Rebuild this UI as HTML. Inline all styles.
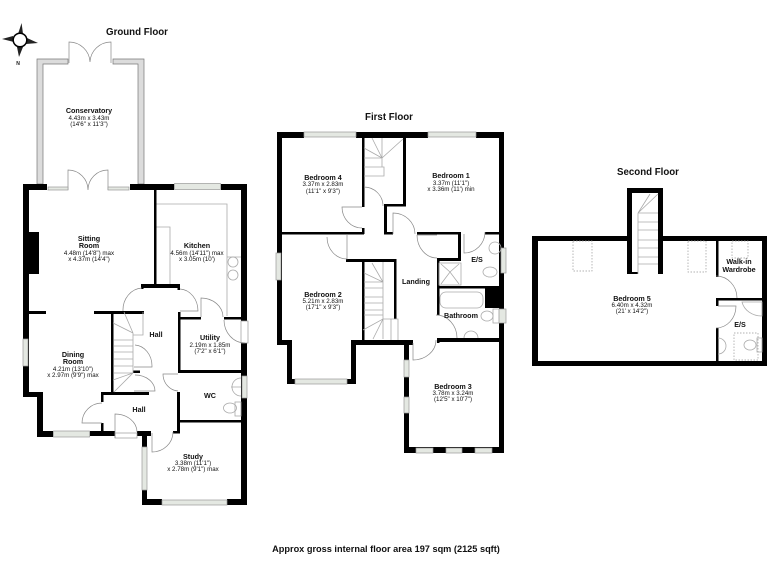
<!DOCTYPE html>
<html><head><meta charset="utf-8"><style>
html,body{margin:0;padding:0;background:#fff;width:768px;height:576px;overflow:hidden}
svg{display:block}
text{font-family:"Liberation Sans",sans-serif;text-anchor:middle;fill:#111}
.t{font-size:9.7px;font-weight:bold}
.r{font-size:7.2px;font-weight:bold}
.d{font-size:6.2px}
.w rect{fill:#000}
.win rect{fill:#e4e8e2;stroke:#999;stroke-width:.7}
.a{fill:none;stroke:#888;stroke-width:.7}
.s{fill:none;stroke:#aaa;stroke-width:.8}
.dash{fill:none;stroke:#999;stroke-width:.7;stroke-dasharray:1.5 1.5}
</style></head><body>
<svg width="768" height="576" viewBox="0 0 768 576" xmlns="http://www.w3.org/2000/svg">
<rect width="768" height="576" fill="#fff"/>
<!-- compass -->
<g fill="#222"><polygon points="21.6,23 18,34 23,34"/><polygon points="19,57 17,47 23,47"/><polygon points="2,39 13,36 14,42"/><polygon points="38,43 27,38 26,44"/></g>
<circle cx="20" cy="40" r="6.8" fill="#fff" stroke="#000" stroke-width="1.5"/>
<text x="18" y="65" style="font-size:5px;font-weight:bold">N</text>
<!-- conservatory -->
<g fill="#dcdcdc" stroke="#777" stroke-width=".7">
<polygon points="37,59 68,59 68,64 43,64 43,184 37,184"/>
<polygon points="144,59 113,59 113,64 138,64 138,184 144,184"/>
</g>
<path class="a" d="M69,63V42A21,21 0 0 1 90,62M111,63V42A21,21 0 0 0 90,62"/>
<path class="a" d="M68,190V170A20,20 0 0 1 88,190M108,190V170A20,20 0 0 0 88,190"/>
<!-- kitchen worktop -->
<path class="s" d="M156,204H227V316M156,227H170V284M227,257H241"/>
<circle cx="233" cy="262" r="5" class="s"/><circle cx="233" cy="275" r="5" class="s"/>
<!-- ground walls -->
<g class="w">
<rect x="23" y="184" width="24" height="6"/><rect x="130" y="184" width="44" height="6"/><rect x="221" y="184" width="26" height="6"/>
<rect x="23" y="184" width="6" height="213"/><rect x="29" y="232" width="10" height="42"/>
<rect x="29" y="311" width="17" height="3"/><rect x="94" y="311" width="50" height="3"/>
<rect x="23" y="392" width="20" height="5"/><rect x="37" y="392" width="6" height="45"/>
<rect x="37" y="431" width="16" height="6"/><rect x="90" y="431" width="25" height="5"/><rect x="137" y="431" width="14" height="5"/>
<rect x="142" y="431" width="5" height="74"/><rect x="142" y="499" width="20" height="6"/><rect x="227" y="499" width="20" height="6"/>
<rect x="241" y="184" width="6" height="321"/>
<rect x="154" y="184" width="2.5" height="100"/><rect x="141" y="284" width="39" height="4"/><rect x="141" y="284" width="2.5" height="5"/><rect x="177.5" y="284" width="2.5" height="6"/>
<rect x="178" y="312" width="2.5" height="60"/><rect x="178" y="317" width="23" height="2.5"/><rect x="224" y="317" width="17" height="2.5"/>
<rect x="178" y="370" width="63" height="3"/><rect x="177" y="392" width="3" height="41"/><rect x="177" y="420" width="64" height="2.5"/><rect x="173" y="431" width="7" height="2.5"/>
<rect x="111" y="311" width="2.5" height="83"/><rect x="101" y="392" width="48" height="3"/><rect x="101" y="392" width="2.5" height="10"/><rect x="101" y="423" width="2.5" height="9"/>
<rect x="133" y="370.5" width="7" height="2.5"/>
</g>
<g class="win">
<rect x="48" y="187" width="20" height="3"/><rect x="108" y="187" width="21" height="3"/><rect x="174.5" y="183.5" width="46" height="6"/>
<rect x="23" y="339" width="5" height="27"/><rect x="53.5" y="431" width="36" height="6"/><rect x="115" y="433" width="22" height="5" style="fill:#fff"/>
<rect x="142" y="447" width="5" height="43"/><rect x="162" y="500" width="65" height="5"/><rect x="241" y="321" width="7" height="22" style="fill:#fff"/><rect x="242" y="376" width="5" height="22"/>
</g>
<!-- ground doors -->
<path class="a" d="M123,311A20,22 0 0 1 142,288M180,289A19,22 0 0 1 198,311H180M201,317V298A22,19 0 0 1 223,317M224,320A21,23 0 0 0 245,343"/>
<path class="a" d="M135,345A18,21 0 0 1 152,366V367H134M135,375A20,16 0 0 1 155,391H134M178,374H163A16,17 0 0 0 178,391M102,403A20,20 0 0 0 82,423H102M115,438V414A22,18 0 0 1 137,432M152,433V452A21,20 0 0 0 173,432"/>
<!-- ground stairs -->
<path class="s" d="M114,340H133M114,346H133M114,352H133M114,359H133M114,366H133M114,373H133M133,333V373M113,380L133,373M114,392L133,373M113,323L133,333M124,312L133,333M133,335H143V312"/>
<!-- ground fixtures -->
<path class="s" d="M241,378A9,9 0 0 0 241,396M231,387H241"/><ellipse cx="230" cy="408" rx="6.5" ry="5" class="s"/><rect x="235" y="402" width="6" height="14" class="s"/>
<!-- first floor walls -->
<g class="w">
<rect x="277" y="132" width="27" height="6"/><rect x="356" y="132" width="72" height="6"/><rect x="476" y="132" width="28" height="6"/>
<rect x="277" y="132" width="5" height="212"/><rect x="499" y="132" width="5" height="321"/>
<rect x="362" y="138" width="2.5" height="69"/><rect x="362" y="228" width="2.5" height="6"/><rect x="362" y="259" width="2.5" height="82"/><rect x="403" y="138" width="3" height="68"/><rect x="384" y="204" width="22" height="2.5"/><rect x="384" y="204" width="3" height="30"/><rect x="384" y="232" width="9" height="2.5"/>
<rect x="282" y="232" width="82" height="2.5"/><rect x="346" y="259" width="50" height="3"/><rect x="394" y="259" width="2.5" height="60"/>
<rect x="417" y="232" width="44" height="2.5"/><rect x="485" y="232" width="14" height="2.5"/><rect x="458" y="232" width="3" height="29"/><rect x="437" y="258" width="24" height="3"/><rect x="437" y="258" width="2.5" height="57"/>
<rect x="439" y="286" width="60" height="2.5"/><rect x="485" y="288" width="14" height="20"/>
<rect x="437" y="338" width="67" height="4"/><rect x="437" y="338" width="2.5" height="5"/>
<rect x="277" y="340" width="15" height="5"/><rect x="287" y="340" width="5" height="44"/><rect x="287" y="379" width="8" height="5"/><rect x="347" y="379" width="9" height="5"/><rect x="351" y="340" width="5" height="44"/><rect x="351" y="340" width="62" height="5"/>
<rect x="404" y="340" width="5" height="113"/><rect x="404" y="447" width="100" height="6"/>
</g>
<g class="win">
<rect x="304" y="132" width="52" height="5"/><rect x="428" y="132" width="48" height="5"/><rect x="276" y="253" width="5" height="27"/><rect x="501" y="248" width="5" height="25"/><rect x="499" y="309" width="7" height="14"/>
<rect x="295" y="379" width="52" height="5"/><rect x="404" y="360" width="5" height="17"/><rect x="404" y="397" width="5" height="16"/>
<rect x="416" y="448" width="17" height="5"/><rect x="446" y="448" width="16" height="5"/><rect x="475" y="448" width="17" height="5"/>
</g>
<!-- first floor doors -->
<path class="a" d="M364,187A19,19 0 0 1 383,206M362,207H342A20,21 0 0 0 362,228M327,237A20,22 0 0 0 347,259V234M393,234V213A22,21 0 0 1 415,234M417,235H437M417,235A20,23 0 0 0 437,258M464,234V253A21,21 0 0 0 485,232M413,343V360A23,20 0 0 0 436,340M436,315A21,23 0 0 1 457,338"/>
<!-- first floor stairs -->
<path class="s" d="M382,158L364,148M382,158L372,138M382,158V138M382,158L403,139M382,158H364M364,167H384V176H364M382,158V167"/>
<path class="s" d="M383,282L364,273M383,282L372,263M383,282V262M364,282H383M364,288H383M364,297H383M364,303H383M364,310H383M364,315H383M383,262V319M383,319L363,330M383,319L373,339M383,319V339M383,319H398V340M391,319V340"/>
<!-- first floor fixtures -->
<rect x="439" y="263" width="22" height="22" class="s"/><path class="s" d="M441,284L450,272L459,284M441,264L450,272L459,264"/>
<rect x="440" y="292" width="43" height="16" rx="6" class="s"/>
<circle cx="495" cy="248" r="6" class="s"/><ellipse cx="490" cy="272" rx="7" ry="5" class="s"/>
<ellipse cx="487" cy="316" rx="6" ry="5" class="s"/><rect x="493" y="309" width="6" height="14" class="s"/>
<path class="s" d="M464,338A7,7 0 0 1 478,338"/>
<!-- second floor walls -->
<g class="w">
<rect x="532" y="236" width="100" height="5"/><rect x="658" y="236" width="109" height="5"/>
<rect x="532" y="236" width="6" height="130"/><rect x="762" y="236" width="5" height="130"/><rect x="532" y="361" width="235" height="5"/>
<rect x="627" y="188" width="5" height="86"/><rect x="658" y="188" width="5" height="86"/><rect x="627" y="188" width="36" height="5"/><rect x="630" y="272" width="8" height="2"/>
<rect x="716" y="241" width="2.5" height="36"/><rect x="716" y="298" width="46" height="2.5"/><rect x="716" y="298" width="2.5" height="8"/><rect x="716" y="328" width="2.5" height="33"/>
</g>
<path class="s" d="M638,213L658,194M638,213L650,194M638,213H658M638,222H658M638,230H658M638,240H658M638,248H658M638,257H658M638,264H658M638,213V274"/>
<path class="dash" d="M573,241H592V271H573ZM688,241H706V272H688ZM732,241H748V258H732ZM734,333H758V360H734Z"/>
<path class="a" d="M716,276A21,22 0 0 1 737,298M716,328A20,22 0 0 0 736,306H718"/>
<path class="s" d="M742,302A20,18 0 0 0 762,316V302ZM718,338A8,8 0 0 1 718,354"/><ellipse cx="750" cy="345" rx="6" ry="5" class="s"/><rect x="757" y="338" width="5" height="14" class="s"/>
<!-- labels -->
<text class="t" x="137" y="35">Ground Floor</text>
<text class="t" x="389" y="120">First Floor</text>
<text class="t" x="648" y="175">Second Floor</text>
<text class="r" x="89" y="113">Conservatory</text><text class="d" x="89" y="120">4.43m x 3.43m</text><text class="d" x="89" y="126">(14'6" x 11'3")</text>
<text class="r" x="89" y="241">Sitting</text><text class="r" x="89" y="248">Room</text><text class="d" x="89" y="255">4.48m (14'8") max</text><text class="d" x="89" y="261">x 4.37m (14'4")</text>
<text class="r" x="197" y="248">Kitchen</text><text class="d" x="197" y="255">4.56m (14'11") max</text><text class="d" x="197" y="261">x 3.05m (10')</text>
<text class="r" x="73" y="357">Dining</text><text class="r" x="73" y="364">Room</text><text class="d" x="73" y="371">4.21m (13'10")</text><text class="d" x="73" y="377">x 2.97m (9'9") max</text>
<text class="r" x="156" y="337">Hall</text><text class="r" x="139" y="412">Hall</text><text class="r" x="210" y="398">WC</text>
<text class="r" x="210" y="340">Utility</text><text class="d" x="210" y="347">2.19m x 1.85m</text><text class="d" x="210" y="353">(7'2" x 6'1")</text>
<text class="r" x="193" y="459">Study</text><text class="d" x="193" y="465">3.38m (11'1")</text><text class="d" x="193" y="471">x 2.78m (9'1") max</text>
<text class="r" x="323" y="180">Bedroom 4</text><text class="d" x="323" y="186">3.37m x 2.83m</text><text class="d" x="323" y="193">(11'1" x 9'3")</text>
<text class="r" x="451" y="178">Bedroom 1</text><text class="d" x="451" y="185">3.37m (11'1")</text><text class="d" x="451" y="191">x 3.36m (11') min</text>
<text class="r" x="323" y="297">Bedroom 2</text><text class="d" x="323" y="303">5.21m x 2.83m</text><text class="d" x="323" y="309">(17'1" x 9'3")</text>
<text class="r" x="416" y="284">Landing</text><text class="r" x="461" y="318">Bathroom</text><text class="r" x="477" y="262">E/S</text>
<text class="r" x="453" y="389">Bedroom 3</text><text class="d" x="453" y="395">3.78m x 3.24m</text><text class="d" x="453" y="401">(12'5" x 10'7")</text>
<text class="r" x="632" y="301">Bedroom 5</text><text class="d" x="632" y="307">6.40m x 4.32m</text><text class="d" x="632" y="313">(21' x 14'2")</text>
<text class="r" x="739" y="264">Walk-in</text><text class="r" x="739" y="272">Wardrobe</text><text class="r" x="740" y="327">E/S</text>
<text x="386" y="552" style="font-size:9.2px;font-weight:bold">Approx gross internal floor area 197 sqm (2125 sqft)</text>
</svg>
</body></html>
